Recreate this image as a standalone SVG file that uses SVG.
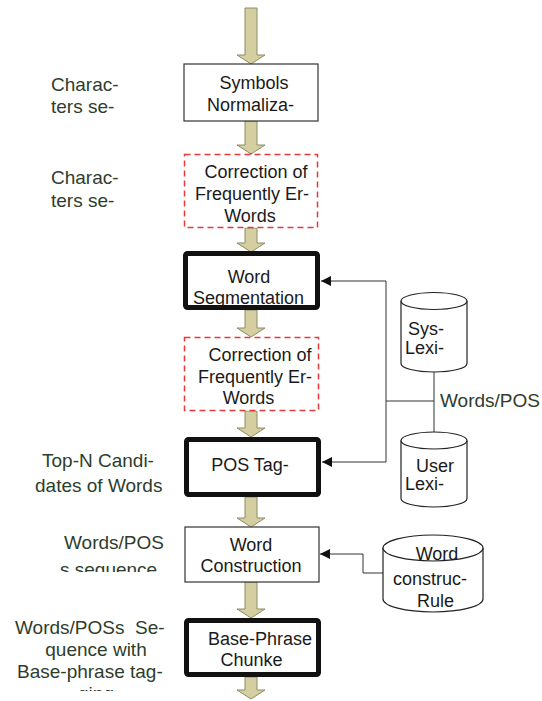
<svg xmlns="http://www.w3.org/2000/svg" width="542" height="701" viewBox="0 0 542 701">
<style>
.bg{fill:#ffffff}
.arr{fill:#d4cea0;stroke:#8c8c66;stroke-width:1}
.thin{fill:#ffffff;stroke:#333333;stroke-width:1.2}
.thick{fill:#ffffff;stroke:#111111;stroke-width:5}
.dash{fill:#ffffff;stroke:#e53a3a;stroke-width:1.5;stroke-dasharray:6 4}
.cyl{fill:#ffffff;stroke:#222222;stroke-width:1.2}
.conn{fill:none;stroke:#333333;stroke-width:1}
.nt{font-family:"Liberation Sans",Arial,sans-serif;font-size:18px;fill:#1a1a1a;text-anchor:middle}
.ct{font-family:"Liberation Sans",Arial,sans-serif;font-size:18px;fill:#1a1a1a}
.lt{font-family:"Liberation Sans",Arial,sans-serif;font-size:19px;fill:#2e3d2c;white-space:pre}
</style>
<defs>
<marker id="ah" markerWidth="12" markerHeight="12" refX="10" refY="5" orient="auto" markerUnits="userSpaceOnUse">
<path d="M0,0 L10,5 L0,10 z" fill="#111111"/>
</marker>
<clipPath id="c1"><rect x="0" y="500" width="180" height="72"/></clipPath>
<clipPath id="c2"><rect x="0" y="600" width="180" height="91"/></clipPath>
</defs>
<rect class="bg" x="0" y="0" width="542" height="701"/>

<g id="flow-arrows">
<path class="arr" d="M245,8 H257 V55 H265 L251,64 L237,55 H245 Z"/>
<path class="arr" d="M245,121 H257 V145 H265 L251,154 L237,145 H245 Z"/>
<path class="arr" d="M245,228 H257 V243 H265 L251,252 L237,243 H245 Z"/>
<path class="arr" d="M245,310 H257 V328 H265 L251,337 L237,328 H245 Z"/>
<path class="arr" d="M245,411 H257 V428 H265 L251,437 L237,428 H245 Z"/>
<path class="arr" d="M245,497 H257 V518 H265 L251,527 L237,518 H245 Z"/>
<path class="arr" d="M245,582 H257 V609 H265 L251,618 L237,609 H245 Z"/>
<path class="arr" d="M245,677 H257 V690 H265 L251,699 L237,690 H245 Z"/>
</g>

<g id="connectors">
<path class="conn" d="M386,281 V462"/>
<path class="conn" d="M386,281 H321" marker-end="url(#ah)"/>
<path class="conn" d="M386,462 H322" marker-end="url(#ah)"/>
<path class="conn" d="M434,401 H386"/>
<path class="conn" d="M434,372 V432"/>
<path class="conn" d="M383,573 H363 V554 H320" marker-end="url(#ah)"/>
<path class="conn" d="M251,153 V158"/>
</g>

<g id="symbols-normalization">
<rect class="thin" x="184" y="64" width="134" height="57"/>
<text class="nt" x="254" y="89">Symbols</text>
<text class="nt" x="250.5" y="111">Normaliza-</text>
</g>

<g id="correction-1">
<rect class="dash" x="184.5" y="154.5" width="133" height="73"/>
<text class="nt" x="256" y="178">Correction of</text>
<text class="nt" x="252" y="200">Frequently Er-</text>
<text class="nt" x="250" y="222">Words</text>
</g>

<g id="word-segmentation">
<rect class="thick" x="185.5" y="253.5" width="132" height="54" rx="2"/>
<text class="nt" x="249" y="283">Word</text>
<text class="nt" x="248.5" y="304">Segmentation</text>
</g>

<g id="correction-2">
<rect class="dash" x="184.5" y="337.5" width="134" height="73"/>
<text class="nt" x="260" y="361">Correction of</text>
<text class="nt" x="255" y="383">Frequently Er-</text>
<text class="nt" x="248.5" y="404">Words</text>
</g>

<g id="pos-tagging">
<rect class="thick" x="186.5" y="439.5" width="132" height="55" rx="2"/>
<text class="nt" x="250" y="471">POS Tag-</text>
</g>

<g id="word-construction">
<rect class="thin" x="185" y="527" width="134" height="55"/>
<text class="nt" x="251" y="551">Word</text>
<text class="nt" x="251" y="572">Construction</text>
</g>

<g id="base-phrase-chunker">
<rect class="thick" x="186.5" y="620.5" width="132" height="54" rx="2"/>
<text class="nt" x="260" y="645">Base-Phrase</text>
<text class="nt" x="251.5" y="666">Chunke</text>
</g>

<g id="sys-lexicon">
<path class="cyl" d="M401,301 V363.5 A33,8.5 0 0 0 467,363.5 V301"/>
<ellipse class="cyl" cx="434" cy="301" rx="33" ry="8.5"/>
<text class="ct" x="408" y="335">Sys-</text>
<text class="ct" x="405" y="354">Lexi-</text>
</g>

<g id="user-lexicon">
<path class="cyl" d="M401,440.5 V498.5 A33,8.5 0 0 0 467,498.5 V440.5"/>
<ellipse class="cyl" cx="434" cy="440.5" rx="33" ry="8.5"/>
<text class="ct" x="416" y="472">User</text>
<text class="ct" x="405" y="490">Lexi-</text>
</g>

<g id="word-construction-rule">
<path class="cyl" d="M383,548 V599 A50,13 0 0 0 483,599 V548"/>
<ellipse class="cyl" cx="433" cy="548" rx="50" ry="13"/>
<text class="nt" x="437" y="560">Word</text>
<text class="ct" x="393" y="585">construc-</text>
<text class="ct" x="417" y="607">Rule</text>
</g>

<g id="labels">
<text class="lt" x="51" y="91">Charac-</text>
<text class="lt" x="51" y="113">ters se-</text>
<text class="lt" x="51" y="184">Charac-</text>
<text class="lt" x="51" y="207">ters se-</text>
<text class="lt" x="42" y="467">Top-N Candi-</text>
<text class="lt" x="35" y="492">dates of Words</text>
<text class="lt" x="164" y="549" text-anchor="end">Words/POS</text>
<text class="lt" x="60" y="576" clip-path="url(#c1)">s sequence</text>
<text class="lt" x="15" y="634">Words/POSs  Se-</text>
<text class="lt" x="96" y="656" text-anchor="middle">quence with</text>
<text class="lt" x="17" y="678">Base-phrase tag-</text>
<text class="lt" x="96" y="700" text-anchor="middle" clip-path="url(#c2)">ging</text>
<text class="lt" x="440" y="407">Words/POS</text>
</g>
</svg>
